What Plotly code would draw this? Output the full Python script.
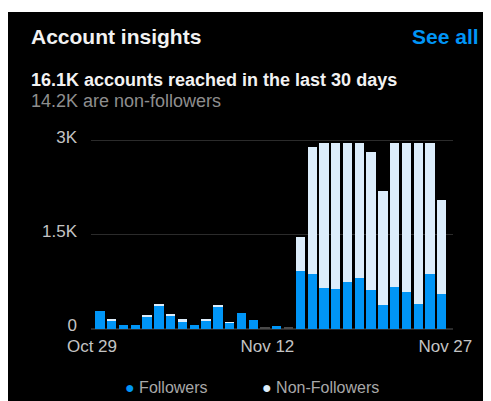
import plotly.graph_objects as go

dates = ["Oct 29", "Oct 30", "Oct 31"] + [f"Nov {d}" for d in range(1, 28)]
followers = [280, 128, 69, 69, 196, 376, 201, 111, 58, 127, 360, 100, 260, 148, 0,
             42, 0, 927, 875, 652, 641, 747, 806, 615, 387, 663, 588, 398, 880, 562]
totals = [280, 148, 69, 69, 223, 403, 239, 154, 58, 159, 371, 111, 260, 148, 21,
          42, 21, 1468, 2894, 2968, 2968, 2968, 2968, 2825, 2200, 2968, 2968, 2968, 2968, 2051]
non_followers = [t - f for t, f in zip(totals, followers)]
tick_labels = ["Oct 29", "Nov 12", "Nov 27"]
y_ticks = [0, 1500, 3000]
y_tick_text = ["0", "1.5K", "3K"]

BLUE = "#0095f6"
LIGHT = "#dcedfb"
FONT = "Liberation Sans"

OFF = 8  # page body margin
W, H = 491 - OFF, 401 - OFF
L, R, T, B = 83, W - 445, 127, H - 321
pw, ph = W - L - R, H - T - B

def px(x):  # page x -> paper
    return (x - OFF - L) / pw

def py(y):  # page y -> paper
    return (H - B - (y - OFF)) / ph

nf_colors = [LIGHT if f > 0 else "#4a4a4a" for f in followers]

fig = go.Figure()
fig.add_trace(go.Bar(x=list(range(len(dates))), y=followers, name="Followers",
                     marker=dict(color=BLUE, line=dict(width=0)), showlegend=False))
fig.add_trace(go.Bar(x=list(range(len(dates))), y=non_followers, name="Non-Followers",
                     marker=dict(color=nf_colors, line=dict(width=0)), showlegend=False))

fig.update_layout(
    width=W, height=H,
    margin=dict(l=L, r=R, t=T, b=B),
    barmode="stack", bargap=0.21,
    paper_bgcolor="white", plot_bgcolor="rgba(0,0,0,0)",
    font=dict(family=FONT, color="#bdbdbd", size=15),
    xaxis=dict(range=[-0.763, 29.95], tickvals=[-0.68, 14.2, 29.3], ticktext=tick_labels,
               showgrid=False, zeroline=False, showline=False, ticks="",
               tickfont=dict(size=17, color="#c4c4c4"), ticklabelstandoff=5),
    yaxis=dict(range=[0, 3000 * ph / 188.3], tickvals=y_ticks, ticktext=y_tick_text,
               showgrid=True, gridcolor="#2b2b2b", gridwidth=1, zeroline=True,
               zerolinecolor="#2b2b2b", showline=False, ticks="",
               tickfont=dict(size=17, color="#c4c4c4"), ticklabelstandoff=13,
               ticklabelshift=-4),
    shapes=[dict(type="rect", xref="paper", yref="paper",
                 x0=px(8), x1=px(488), y0=py(401), y1=py(12),
                 fillcolor="black", line=dict(width=0), layer="below")],
)

ann = [
    dict(text="<b>Account insights</b>", x=px(29), y=py(36), xanchor="left",
         font=dict(size=21, color="#f2f2f2")),
    dict(text="<b>See all</b>", x=px(481), y=py(36), xanchor="right",
         font=dict(size=21, color=BLUE)),
    dict(text="<b>16.1K accounts reached in the last 30 days</b>", x=px(29), y=py(80),
         xanchor="left", font=dict(size=18, color="#f2f2f2")),
    dict(text="14.2K are non-followers", x=px(29), y=py(101), xanchor="left",
         font=dict(size=18, color="#8e8e8e")),
    dict(text=f"<span style='color:{BLUE}'>●</span> Followers", x=px(123), y=py(387),
         xanchor="left", font=dict(size=16, color="#a8a8a8")),
    dict(text=f"<span style='color:{LIGHT}'>●</span> Non-Followers", x=px(260), y=py(387),
         xanchor="left", font=dict(size=16, color="#a8a8a8")),
]
for a in ann:
    a.update(xref="paper", yref="paper", yanchor="middle", showarrow=False)
fig.update_layout(annotations=ann)

fig.write_html("out.html")
